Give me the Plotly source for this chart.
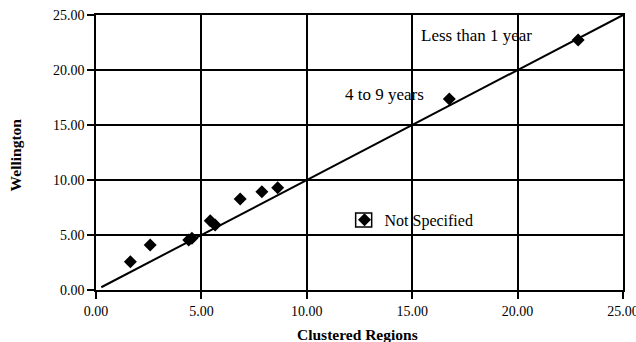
import plotly.graph_objects as go

# Data
clustered_regions = [1.63, 2.57, 4.40, 4.55, 5.42, 5.65, 6.84, 7.87, 8.62, 16.76, 22.87]
wellington = [2.57, 4.09, 4.55, 4.70, 6.30, 5.90, 8.27, 8.94, 9.30, 17.36, 22.73]
series_name = "Not Specified"

equality_x = [0.25, 25.0]
equality_y = [0.25, 25.0]

label_texts = ["Less than 1 year", "4 to 9 years"]
label_x = [18.05, 13.7]
label_y = [23.1, 17.8]

tick_vals = [0, 5, 10, 15, 20, 25]
tick_text = ["0.00", "5.00", "10.00", "15.00", "20.00", "25.00"]

x_title = "Clustered Regions"
y_title = "Wellington"

FONT = "Liberation Serif, Times New Roman, serif"

fig = go.Figure()
fig.add_trace(go.Scatter(
    x=equality_x, y=equality_y, mode="lines",
    line=dict(color="black", width=2), showlegend=False, hoverinfo="skip"))
fig.add_trace(go.Scatter(
    x=clustered_regions, y=wellington, mode="markers", name=series_name,
    marker=dict(symbol="diamond", size=10, color="black")))

for t, xx, yy in zip(label_texts, label_x, label_y):
    fig.add_annotation(x=xx, y=yy, text=t, showarrow=False,
                       font=dict(family=FONT, size=17, color="black"))

# axis titles
fig.add_annotation(xref="paper", yref="paper", x=0.4955, y=-0.16,
                   text="<b>" + x_title + "</b>", showarrow=False,
                   xanchor="center", yanchor="middle",
                   font=dict(family=FONT, size=15.5, color="black"))
fig.add_annotation(xref="paper", yref="paper", x=-0.151, y=0.491,
                   text="<b>" + y_title + "</b>", showarrow=False, textangle=-90,
                   xanchor="center", yanchor="middle",
                   font=dict(family=FONT, size=15.5, color="black"))

# box drawn around the legend symbol
fig.add_shape(type="rect", xref="paper", yref="paper",
              x0=0.4927, x1=0.5231, y0=0.229, y1=0.28,
              line=dict(color="black", width=1.5), fillcolor="rgba(0,0,0,0)")

axis_common = dict(
    range=[0, 25], tickvals=tick_vals, ticktext=tick_text,
    showgrid=True, gridcolor="black", gridwidth=1.5,
    showline=True, linecolor="black", linewidth=1.5, mirror=True,
    ticks="outside", ticklen=7, tickcolor="black", tickwidth=1.5,
    zeroline=False, automargin=False, ticklabeloverflow="allow",
    tickfont=dict(family=FONT, size=14, color="black"),
)

fig.update_layout(
    width=636, height=342,
    margin=dict(l=96, r=13, t=15, b=52),
    paper_bgcolor="white", plot_bgcolor="white",
    xaxis=dict(**axis_common),
    yaxis=dict(**axis_common),
    showlegend=True,
    legend=dict(x=0.4715, y=0.255, xanchor="left", yanchor="middle",
                bgcolor="rgba(0,0,0,0)", borderwidth=0,
                font=dict(family=FONT, size=16, color="black")),
)

fig.write_html("out.html", config={"displayModeBar": False},
               post_script="document.body.style.margin='0';document.body.style.overflow='hidden';")
